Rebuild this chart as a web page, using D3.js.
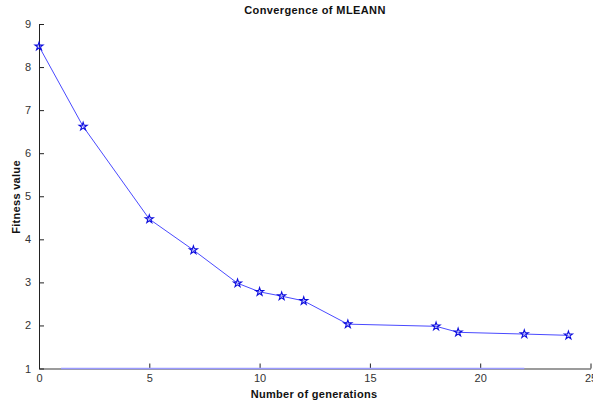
<!DOCTYPE html>
<html>
<head>
<meta charset="utf-8">
<script src="https://cdn.jsdelivr.net/npm/d3@7"></script>
<style>
  html, body { margin: 0; padding: 0; background: #fff; }
  svg { display: block; }
  text { font-family: Arial, "Liberation Sans", sans-serif; }
</style>
</head>
<body>
<svg id="chart" width="593" height="405"></svg>
<script>
// Data
const generations = [0, 2, 5, 7, 9, 10, 11, 12, 14, 18, 19, 22, 24];
const fitness = [8.48, 6.62, 4.47, 3.75, 2.98, 2.78, 2.68, 2.57, 2.03, 1.98, 1.84, 1.80, 1.77];
const baselineX = [1, 22];
const baselineY = [1, 1];
const xTicks = [0, 5, 10, 15, 20, 25];
const yTicks = [1, 2, 3, 4, 5, 6, 7, 8, 9];
const titleText = "Convergence of MLEANN";
const xLabel = "Number of generations";
const yLabel = "Fitness value";

const svg = d3.select("#chart");
const x = d3.scaleLinear().domain([0, 25]).range([39, 590.5]);
const y = d3.scaleLinear().domain([1, 9]).range([368.5, 24]);

// Axes
const xAxis = d3.axisBottom(x).tickValues(xTicks).tickSizeInner(-5).tickSizeOuter(0).tickPadding(8);
const yAxis = d3.axisLeft(y).tickValues(yTicks).tickSizeInner(-5).tickSizeOuter(0).tickPadding(8);

const gx = svg.append("g").attr("transform", `translate(0,${y(1)})`).call(xAxis);
gx.select(".domain").attr("stroke", "#7a7a7a").attr("stroke-width", 1.3);
gx.selectAll(".tick line").attr("stroke", "#222");
gx.selectAll(".tick text").attr("fill", "#333").attr("font-size", 11).attr("dy", "0.5em");

const gy = svg.append("g").attr("transform", `translate(${x(0)},0)`).call(yAxis);
gy.select(".domain").attr("stroke", "#222");
gy.selectAll(".tick line").attr("stroke", "#222");
gy.selectAll(".tick text").attr("fill", "#333").attr("font-size", 11);

// Baseline series overlapping the x axis
svg.append("path")
  .datum(baselineX.map((d, i) => [d, baselineY[i]]))
  .attr("fill", "none")
  .attr("stroke", "#9a9aff")
  .attr("stroke-width", 1.5)
  .attr("d", d3.line().x(d => x(d[0])).y(d => y(d[1])));

// Main line
const pts = generations.map((g, i) => [g, fitness[i]]);
svg.append("path")
  .datum(pts)
  .attr("fill", "none")
  .attr("stroke", "#4a4aff")
  .attr("stroke-width", 1)
  .attr("d", d3.line().x(d => x(d[0])).y(d => y(d[1])));

// Star markers
const star = d3.symbol().type(d3.symbolStar).size(20);
svg.append("g").selectAll("path")
  .data(pts)
  .join("path")
  .attr("transform", d => `translate(${x(d[0])},${y(d[1])})`)
  .attr("d", star)
  .attr("fill", "none")
  .attr("stroke", "#0c0cdd")
  .attr("stroke-width", 1.1);

// Title and labels
svg.append("text")
  .attr("x", 315).attr("y", 14)
  .attr("text-anchor", "middle")
  .attr("font-size", 11).attr("font-weight", "bold").attr("fill", "#111")
  .attr("letter-spacing", 0.4)
  .text(titleText);

svg.append("text")
  .attr("x", 314).attr("y", 398)
  .attr("text-anchor", "middle")
  .attr("font-size", 11).attr("font-weight", "bold").attr("fill", "#111")
  .attr("letter-spacing", 0.3)
  .text(xLabel);

svg.append("text")
  .attr("transform", "translate(20,197) rotate(-90)")
  .attr("text-anchor", "middle")
  .attr("font-size", 11).attr("font-weight", "bold").attr("fill", "#111")
  .attr("letter-spacing", 0.3)
  .text(yLabel);
</script>
</body>
</html>
